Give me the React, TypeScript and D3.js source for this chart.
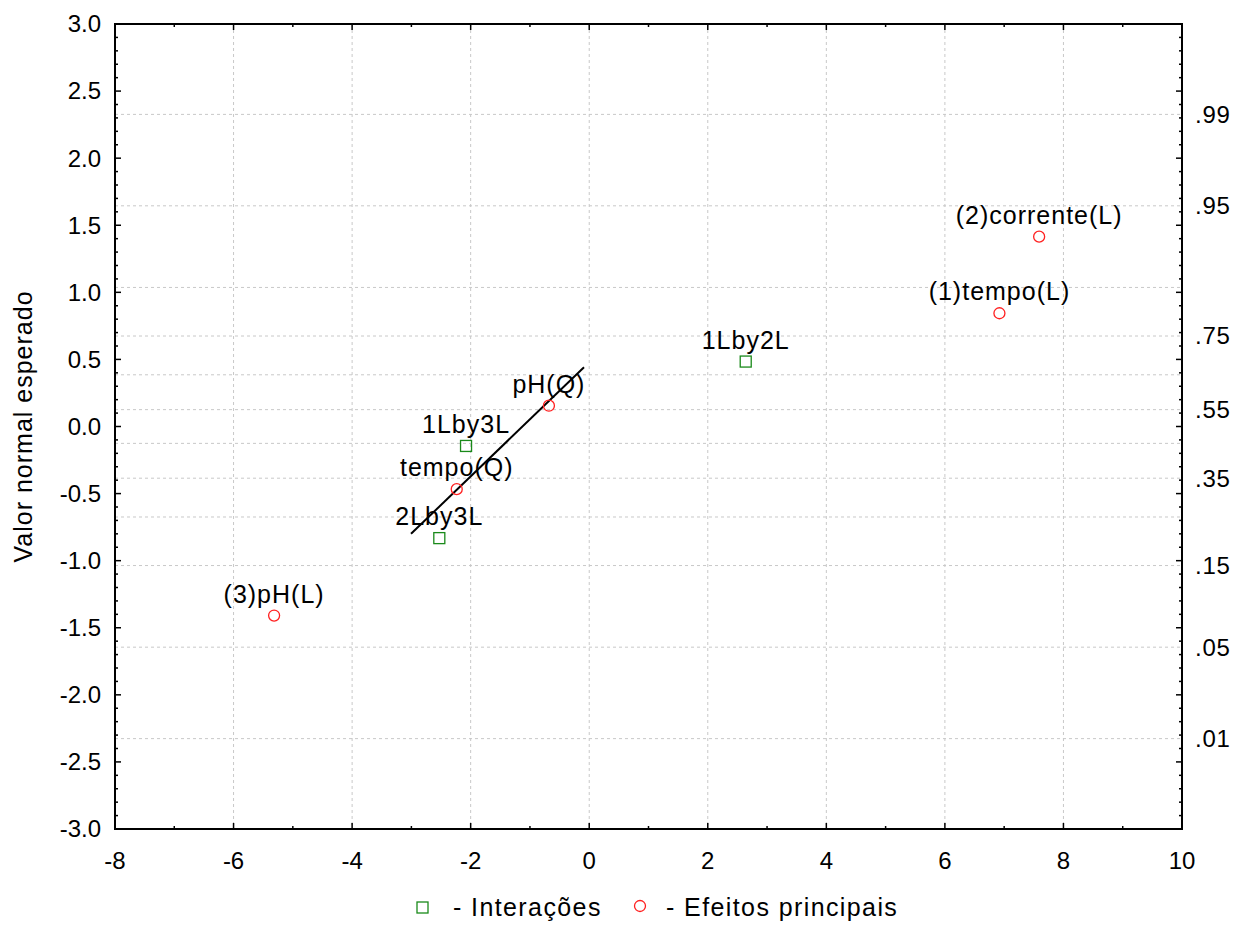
import { useEffect, useRef } from 'react';
import * as d3 from 'd3';

// efeitos principais (circulos vermelhos)
const mainNames = ['(2)corrente(L)', '(1)tempo(L)', 'pH(Q)', 'tempo(Q)', '(3)pH(L)'];
const mainEffect = [7.59, 6.92, -0.68, -2.235, -5.316];
const mainExpected = [1.415, 0.844, 0.155, -0.467, -1.409];

// interacoes (quadrados verdes)
const interNames = ['1Lby2L', '1Lby3L', '2Lby3L'];
const interEffect = [2.64, -2.078, -2.529];
const interExpected = [0.484, -0.145, -0.832];

// reta de referencia
const lineEffect = [-3.006, -0.088];
const lineExpected = [-0.8, 0.442];

const xTickLabels = [-8, -6, -4, -2, 0, 2, 4, 6, 8, 10];
const yTickLabels = [-3.0, -2.5, -2.0, -1.5, -1.0, -0.5, 0.0, 0.5, 1.0, 1.5, 2.0, 2.5, 3.0];
const probGrid = [0.01, 0.05, 0.15, 0.25, 0.35, 0.45, 0.55, 0.65, 0.75, 0.85, 0.95, 0.99];
const probLabels = ['.01', '.05', '.15', '.35', '.55', '.75', '.95', '.99'];

// inverse normal cdf (Acklam)
const probit = (p: number) => {
	const a = [-39.69683028665376, 220.9460984245205, -275.9285104469687, 138.357751867269, -30.66479806614716, 2.506628277459239];
	const b = [-54.47609879822406, 161.5858368580409, -155.6989798598866, 66.80131188771972, -13.28068155288572];
	const c = [-0.007784894002430293, -0.3223964580411365, -2.400758277161838, -2.549732539343734, 4.374664141464968, 2.938163982698783];
	const d = [0.007784695709041462, 0.3224671290700398, 2.445134137142996, 3.754408661907416];
	const pl = 0.02425;
	if (p < pl) {
		const q = Math.sqrt(-2 * Math.log(p));
		return (((((c[0] * q + c[1]) * q + c[2]) * q + c[3]) * q + c[4]) * q + c[5]) / ((((d[0] * q + d[1]) * q + d[2]) * q + d[3]) * q + 1);
	}
	if (p > 1 - pl) {
		const q = Math.sqrt(-2 * Math.log(1 - p));
		return -(((((c[0] * q + c[1]) * q + c[2]) * q + c[3]) * q + c[4]) * q + c[5]) / ((((d[0] * q + d[1]) * q + d[2]) * q + d[3]) * q + 1);
	}
	const q = p - 0.5;
	const r = q * q;
	return ((((((a[0] * r + a[1]) * r + a[2]) * r + a[3]) * r + a[4]) * r + a[5]) * q) / (((((b[0] * r + b[1]) * r + b[2]) * r + b[3]) * r + b[4]) * r + 1);
};

const App = () => {
	const ref = useRef<SVGSVGElement>(null);

	useEffect(() => {
		const width = 1248,
			height = 925;
		const left = 115,
			right = 1182,
			top = 24,
			bottom = 829;
		const font = '"Liberation Sans", Arial, sans-serif';
		const fs = 24;

		const svg = d3.select(ref.current).attr('width', width).attr('height', height);
		svg.selectAll('*').remove();
		svg.append('rect').attr('width', width).attr('height', height).attr('fill', '#fff');

		const x = d3.scaleLinear().domain([-8, 10]).range([left, right]);
		const y = d3.scaleLinear().domain([-3, 3]).range([bottom, top]);

		// grid
		const grid = svg.append('g').attr('stroke', '#c8c8c8').attr('stroke-width', 1).attr('stroke-dasharray', '3,3');
		xTickLabels
			.filter((v) => v > -8 && v < 10)
			.forEach((v) => {
				grid.append('line').attr('x1', x(v)).attr('x2', x(v)).attr('y1', top).attr('y2', bottom);
			});
		probGrid.forEach((p) => {
			const yy = y(probit(p));
			grid.append('line').attr('x1', left).attr('x2', right).attr('y1', yy).attr('y2', yy);
		});

		// ticks (inward)
		const ticks = svg.append('g').attr('stroke', '#000').attr('stroke-width', 1.5);
		d3.range(-30, 31).forEach((i) => {
			const v = i / 10;
			const len = i % 5 === 0 ? 6 : 3;
			ticks.append('line').attr('x1', left).attr('x2', left + len).attr('y1', y(v)).attr('y2', y(v));
			ticks.append('line').attr('x1', right).attr('x2', right - len).attr('y1', y(v)).attr('y2', y(v));
		});
		d3.range(-8, 11).forEach((v) => {
			const len = v % 2 === 0 ? 6 : 3;
			ticks.append('line').attr('x1', x(v)).attr('x2', x(v)).attr('y1', bottom).attr('y2', bottom - len);
			ticks.append('line').attr('x1', x(v)).attr('x2', x(v)).attr('y1', top).attr('y2', top + len);
		});

		// frame
		svg
			.append('rect')
			.attr('x', left)
			.attr('y', top)
			.attr('width', right - left)
			.attr('height', bottom - top)
			.attr('fill', 'none')
			.attr('stroke', '#000')
			.attr('stroke-width', 2);

		const txt = svg.append('g').attr('font-family', font).attr('font-size', fs).attr('fill', '#000');

		yTickLabels.forEach((v) => {
			txt
				.append('text')
				.attr('x', left - 14)
				.attr('y', y(v))
				.attr('dy', '0.35em')
				.attr('text-anchor', 'end')
				.text(v.toFixed(1));
		});
		xTickLabels.forEach((v) => {
			txt
				.append('text')
				.attr('x', x(v))
				.attr('y', bottom + 40)
				.attr('text-anchor', 'middle')
				.text(v);
		});
		probLabels.forEach((p) => {
			txt
				.append('text')
				.attr('x', right + 13)
				.attr('y', y(probit(+p)))
				.attr('dy', '0.35em')
				.attr('letter-spacing', 0.8)
				.text(p);
		});

		txt
			.append('text')
			.attr('transform', `translate(32, ${(top + bottom) / 2}) rotate(-90)`)
			.attr('text-anchor', 'middle')
			.attr('font-size', 25)
			.attr('letter-spacing', 1)
			.text('Valor normal esperado');

		// reference line
		const line = d3
			.line<number>()
			.x((d) => x(d))
			.y((d, i) => y(lineExpected[i]));
		svg.append('path').datum(lineEffect).attr('d', line).attr('stroke', '#000').attr('stroke-width', 2).attr('fill', 'none');

		const label = (xv: number, yv: number, s: string) =>
			txt
				.append('text')
				.attr('x', x(xv))
				.attr('y', y(yv) - 13)
				.attr('text-anchor', 'middle')
				.attr('font-size', 25)
				.attr('letter-spacing', 1)
				.text(s);

		// interactions
		interEffect.forEach((v, i) => {
			svg
				.append('rect')
				.attr('x', x(v) - 5.5)
				.attr('y', y(interExpected[i]) - 5.5)
				.attr('width', 11)
				.attr('height', 11)
				.attr('fill', 'none')
				.attr('stroke', '#1a8a1a')
				.attr('stroke-width', 1.3);
			label(v, interExpected[i], interNames[i]);
		});

		// main effects
		mainEffect.forEach((v, i) => {
			svg
				.append('circle')
				.attr('cx', x(v))
				.attr('cy', y(mainExpected[i]))
				.attr('r', 5.5)
				.attr('fill', 'none')
				.attr('stroke', '#ff2020')
				.attr('stroke-width', 1.3);
			label(v, mainExpected[i], mainNames[i]);
		});

		// legend
		const lg = svg.append('g').attr('font-family', font).attr('font-size', 25).attr('letter-spacing', 1.4);
		lg.append('rect')
			.attr('x', 417)
			.attr('y', 902)
			.attr('width', 11)
			.attr('height', 11)
			.attr('fill', 'none')
			.attr('stroke', '#1a8a1a')
			.attr('stroke-width', 1.3);
		lg.append('text').attr('x', 453).attr('y', 916).text('- Interações');
		lg.append('circle')
			.attr('cx', 640)
			.attr('cy', 906)
			.attr('r', 5.5)
			.attr('fill', 'none')
			.attr('stroke', '#ff2020')
			.attr('stroke-width', 1.3);
		lg.append('text').attr('x', 666).attr('y', 916).text('- Efeitos principais');
	}, []);

	return <svg ref={ref} style={{ position: 'absolute', left: 0, top: 0, display: 'block' }} />;
};

export default App;
